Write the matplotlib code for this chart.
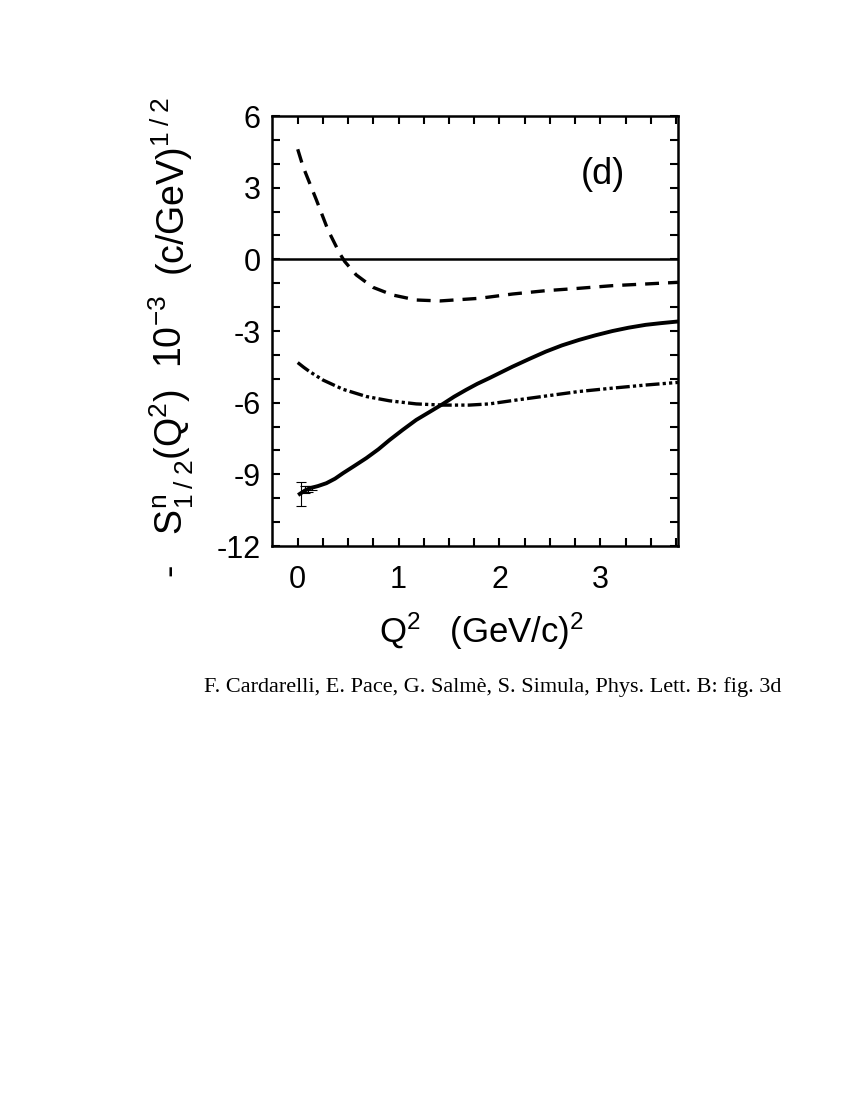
import matplotlib
matplotlib.use("Agg")
import matplotlib.pyplot as plt
import numpy as np

plt.rcParams['font.family'] = ['Liberation Sans', 'DejaVu Sans']
plt.rcParams['mathtext.fontset'] = 'custom'
plt.rcParams['mathtext.rm'] = 'Liberation Sans'
plt.rcParams['mathtext.it'] = 'Liberation Sans'
plt.rcParams['mathtext.bf'] = 'Liberation Sans:bold'
plt.rcParams['lines.scale_dashes'] = False
plt.rcParams['axes.unicode_minus'] = False

# Dashed curve
q2_dash = [0.0, 0.053, 0.185, 0.30, 0.416, 0.466, 0.58, 0.746, 0.94, 1.175, 1.41,
           1.80, 2.13, 2.46, 2.79, 3.12, 3.45, 3.77]
s_dash = [4.61, 3.88, 2.49, 1.23, 0.25, -0.09, -0.65, -1.17, -1.49, -1.70, -1.74,
          -1.63, -1.45, -1.31, -1.21, -1.10, -1.03, -0.96]

# Solid curve
q2_solid = [0.02, 0.07, 0.119, 0.20, 0.284, 0.37, 0.449, 0.56, 0.68, 0.80, 0.911,
            1.04, 1.175, 1.31, 1.44, 1.55, 1.67, 1.78, 1.90,
            2.13, 2.30, 2.46, 2.62, 2.79, 2.95, 3.12, 3.28, 3.45, 3.60, 3.77]
s_solid = [-9.82, -9.68, -9.58, -9.49, -9.37, -9.18, -8.95, -8.65, -8.32, -7.95, -7.56,
           -7.14, -6.72, -6.38, -6.05, -5.75, -5.46, -5.21, -4.97,
           -4.49, -4.16, -3.86, -3.60, -3.37, -3.18, -3.00, -2.86, -2.74, -2.67, -2.60]

# Dash-dot-dot curve
q2_dd = [0.0, 0.06, 0.119, 0.25, 0.45, 0.68, 0.91, 1.175, 1.44, 1.70, 1.90,
         2.13, 2.46, 2.79, 3.12, 3.45, 3.77]
s_dd = [-4.32, -4.52, -4.70, -5.05, -5.44, -5.74, -5.92, -6.05, -6.10, -6.10, -6.05,
        -5.91, -5.72, -5.53, -5.39, -5.26, -5.15]

# Data points with error bars
q2_pts = [0.03, 0.07, 0.10, 0.14]
s_pts = [-9.83, -9.65, -9.60, -9.57]
s_err = [0.49, 0.15, 0.12, 0.10]

xticks = [0, 1, 2, 3]
yticks = [-12, -9, -6, -3, 0, 3, 6]

fig = plt.figure(figsize=(8.5, 11), dpi=100)
ax = fig.add_axes([0.32, 0.5036, 0.4776, 0.3909])

ax.axhline(0, color='black', lw=1.8)
ax.plot(q2_dash, s_dash, color='black', lw=2.4, dashes=(10, 6.5))
ax.plot(q2_dd, s_dd, color='black', lw=2.4, dashes=(10, 2.3, 2.3, 2.3, 2.3, 2.3))
ax.plot(q2_solid, s_solid, color='black', lw=2.8, solid_joinstyle='round')
ax.errorbar(q2_pts, s_pts, yerr=s_err, fmt='none', ecolor='black', elinewidth=0.8,
            capsize=3.5, capthick=0.8)

ax.set_xlim(-0.255, 3.77)
ax.set_ylim(-12, 6)
ax.set_xticks(xticks)
ax.set_xticklabels([str(v) for v in xticks])
ax.set_xticks(np.arange(0, 3.76, 0.25), minor=True)
ax.set_yticks(yticks)
ax.set_yticklabels([str(v) for v in yticks])
ax.set_yticks(np.arange(-12, 6.1, 1), minor=True)

ax.tick_params(which='both', direction='in', top=True, right=True, width=1.5, labelsize=22)
ax.tick_params(which='both', length=6)
ax.tick_params(axis='x', which='major', pad=14)
ax.tick_params(axis='y', which='major', pad=8)
for sp in ax.spines.values():
    sp.set_linewidth(1.8)

ax.text(3.03, 3.55, '(d)', fontsize=26, ha='center', va='center')

fig.text(0.567, 1 - 631 / 1100, r'Q$^2$   (GeV/c)$^2$', fontsize=25, ha='center', va='center')

# y-axis label in three groups, as spread in the original
fig.text(0.202, 1 - 484 / 1100, r'-   S$^{\rm n}_{1\;/\;2}$(Q$^2$)', fontsize=27, rotation=90,
         ha='center', va='center')
fig.text(0.202, 1 - 332 / 1100, r'10$^{-3}$', fontsize=27, rotation=90,
         ha='center', va='center')
fig.text(0.202, 1 - 187 / 1100, r'(c/GeV)$^{1\;/\;2}$', fontsize=27, rotation=90,
         ha='center', va='center')

fig.text(0.58, 1 - 687 / 1100, 'F. Cardarelli, E. Pace, G. Salmè, S. Simula, Phys. Lett. B: fig. 3d',
         fontsize=16, family=['Liberation Serif', 'DejaVu Serif'], ha='center', va='center')

fig.savefig('out.png', dpi=100)
